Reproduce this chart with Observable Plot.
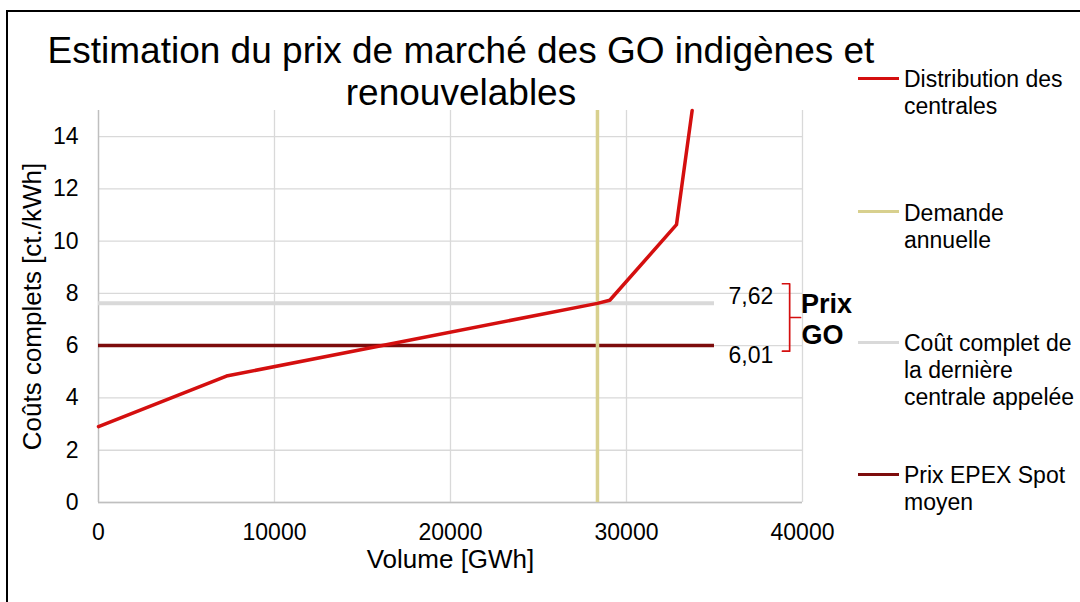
<!DOCTYPE html>
<html>
<head>
<meta charset="utf-8">
<script src="https://cdn.jsdelivr.net/npm/d3@7"></script>
<script src="https://cdn.jsdelivr.net/npm/@observablehq/plot@0.6"></script>
<style>
  html, body { margin: 0; padding: 0; background: #fff; }
  #wrap { position: relative; width: 1080px; height: 602px; overflow: hidden; font-family: "Liberation Sans", Arial, sans-serif; color: #000; }
  #frame { position: absolute; left: 6px; top: 10px; width: 1200px; height: 700px; border: 2px solid #000; box-sizing: border-box; }
  #chart { position: absolute; left: 0; top: 0; }
  #title { position: absolute; left: 0; top: 30px; width: 922px; text-align: center; font-size: 37px; line-height: 42px; white-space: nowrap; }
  .leg { position: absolute; left: 904px; font-size: 23px; line-height: 27px; white-space: nowrap; }
  .sw { position: absolute; left: 858px; width: 41px; height: 3px; }
</style>
</head>
<body>
<div id="wrap">
  <div id="frame"></div>
  <div id="chart"></div>
  <div id="title">Estimation du prix de marché des GO indigènes et<br>renouvelables</div>
  <div id="legend"></div>
</div>
<script>
// ---- data ----
const supplyVolume = [0, 7270, 28350, 29050, 32840, 33730];        // GWh
const supplyCost   = [2.9, 4.84, 7.62, 7.74, 10.63, 15.0];         // ct./kWh
const demandVolume = 28350;                                        // GWh
const lastPlantCost = 7.62;                                        // ct./kWh
const epexPrice = 6.01;                                            // ct./kWh
const refLineEnd = 35000;                                          // GWh
const xTicks = [0, 10000, 20000, 30000, 40000];
const yTicks = [0, 2, 4, 6, 8, 10, 12, 14];
const priceLabels = ["7,62", "6,01"];
const seriesNames = ["Distribution des\ncentrales", "Demande\nannuelle", "Coût complet de\nla dernière\ncentrale appelée", "Prix EPEX Spot\nmoyen"];
const seriesColors = ["#d40f0f", "#d8d08e", "#d9d9d9", "#7d0c0c"];

const supply = supplyVolume.map((v, i) => ({x: v, y: supplyCost[i]}));
const [cRed, cYellow, cGray, cDark] = seriesColors;

const braceTop = lastPlantCost + 0.75;
const braceBottom = epexPrice - 0.22;
const braceMid = (braceTop + braceBottom) / 2;

const chart = Plot.plot({
  width: 1080,
  height: 602,
  marginLeft: 98,
  marginRight: 278,
  marginTop: 110,
  marginBottom: 100,
  style: {fontFamily: "Liberation Sans, Arial, sans-serif", fontSize: "23px", color: "#000", background: "transparent", overflow: "visible"},
  x: {domain: [0, 40000], ticks: xTicks},
  y: {domain: [0, 15], ticks: yTicks},
  marks: [
    Plot.gridY(yTicks, {stroke: "#d9d9d9", strokeOpacity: 1, strokeWidth: 1.3}),
    Plot.gridX(xTicks.slice(1), {stroke: "#d9d9d9", strokeOpacity: 1, strokeWidth: 1.3}),
    Plot.ruleY([0], {stroke: "#bfbfbf", strokeWidth: 1.5}),
    Plot.ruleX([0], {stroke: "#bfbfbf", strokeWidth: 1.5}),
    Plot.axisY(yTicks, {tickSize: 0, tickPadding: 20, fontSize: 23, label: null}),
    Plot.axisX(xTicks, {tickSize: 0, tickPadding: 21, fontSize: 23, label: null, tickFormat: d => String(d)}),
    Plot.text(["Coûts complets [ct./kWh]"], {frameAnchor: "left", textAnchor: "middle", lineAnchor: "middle", dx: -66, rotate: -90, fontSize: 26}),
    Plot.text(["Volume [GWh]"], {frameAnchor: "bottom", lineAnchor: "middle", dy: 57, fontSize: 26}),
    Plot.ruleY([lastPlantCost], {x1: 0, x2: refLineEnd, stroke: cGray, strokeWidth: 4}),
    Plot.ruleY([epexPrice], {x1: 0, x2: refLineEnd, stroke: cDark, strokeWidth: 3.5}),
    Plot.ruleX([demandVolume], {y1: 0, y2: 15, stroke: cYellow, strokeWidth: 3.5}),
    Plot.line(supply, {x: "x", y: "y", stroke: cRed, strokeWidth: 3.5}),
    // value annotations
    Plot.text([{y: lastPlantCost, t: priceLabels[0]}], {x: 37070, y: "y", text: "t", dy: -7, fontSize: 23}),
    Plot.text([{y: epexPrice, t: priceLabels[1]}], {x: 37070, y: "y", text: "t", dy: 10, fontSize: 23}),
    // brace between the two prices
    Plot.line([
      {x: 38860, y: braceTop}, {x: 39270, y: braceTop},
      {x: 39270, y: braceMid}, {x: 39890, y: braceMid},
      {x: 39270, y: braceMid},
      {x: 39270, y: braceBottom}, {x: 38860, y: braceBottom}
    ], {x: "x", y: "y", stroke: cRed, strokeWidth: 1.7, strokeLinejoin: "round", clip: false}),
    Plot.text([{y: lastPlantCost}], {x: 40000, y: "y", text: () => "Prix", dx: 24, dy: 1, fontSize: 27, fontWeight: "bold", clip: false}),
    Plot.text([{y: epexPrice}], {x: 40000, y: "y", text: () => "GO", dx: 20, dy: -10, fontSize: 27, fontWeight: "bold", clip: false})
  ]
});
document.getElementById("chart").appendChild(chart);

// legend
const legText = [66, 200, 330, 462];   // top of first text line
const legLine = [78, 211, 342, 474];   // swatch centre
const legend = document.getElementById("legend");
seriesNames.forEach((name, i) => {
  const sw = document.createElement("div");
  sw.className = "sw";
  sw.style.top = (legLine[i] - 1.5) + "px";
  sw.style.background = seriesColors[i];
  legend.appendChild(sw);
  const t = document.createElement("div");
  t.className = "leg";
  t.style.top = legText[i] + "px";
  t.innerHTML = name.split("\n").join("<br>");
  legend.appendChild(t);
});
</script>
</body>
</html>
